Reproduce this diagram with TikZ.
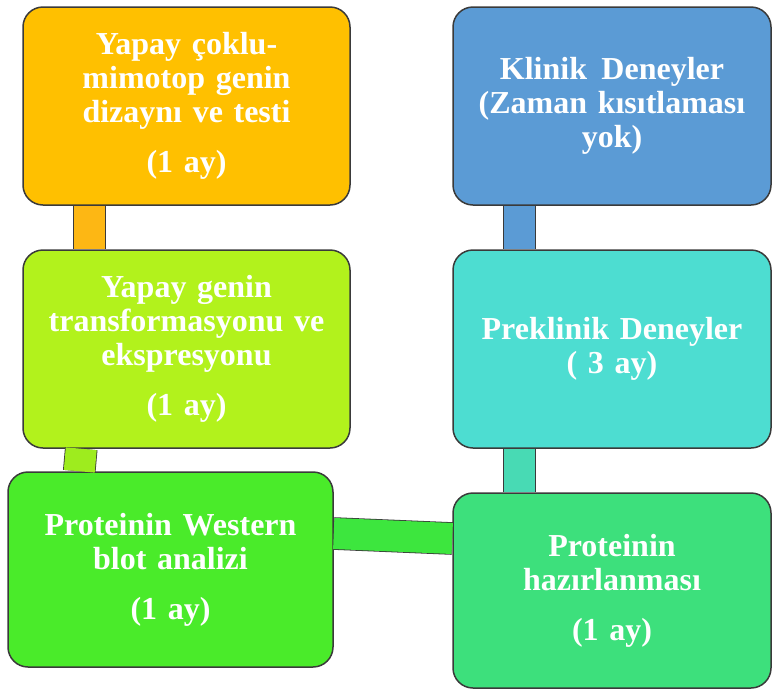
\documentclass[tikz,border=0pt]{standalone}
\usepackage{fontspec}
\setmainfont{Liberation Serif}
\definecolor{edge}{HTML}{3A3A3A}
\definecolor{amber}{HTML}{FFC000}
\definecolor{steel}{HTML}{5B9BD5}
\definecolor{lime}{HTML}{B2F21C}
\definecolor{aqua}{HTML}{4DDDD1}
\definecolor{leaf}{HTML}{4AEB2A}
\definecolor{mint}{HTML}{3DE07C}
\definecolor{amberbar}{HTML}{FDB714}
\definecolor{limebar}{HTML}{9EEC1E}
\definecolor{aquabar}{HTML}{48DAB4}
\definecolor{leafbar}{HTML}{3DE63E}

\begin{document}
\begin{tikzpicture}[x=1pt, y=-1pt, every node/.style={font=\fontsize{32}{34}\selectfont\bfseries},
      box/.style={draw=edge, rounded corners=20pt, text=white, minimum height=198pt, minimum width=318pt, text width=300pt, align=center, inner sep=0pt, line width=1.5pt},
      bar/.style={draw=edge, line width=0.8pt, double distance=31pt}]
    \useasboundingbox (0,0) rectangle (772,689);
    \node[box, fill=amber, minimum width=327pt] (yapay) at (186.5,106) {Yapay çoklu-\\mimotop genin\\dizaynı ve testi\\[16pt](1 ay)};
    \node[box, fill=steel] (klinik) at (612,106) {Klinik\hspace{0.45em}Deneyler\\(Zaman kısıtlaması\\yok)};
    \node[box, fill=lime, minimum width=327pt] (transform) at (186.5,349) {Yapay genin\\transformasyonu ve\\ekspresyonu\\[16pt](1 ay)};
    \node[box, fill=aqua] (preklinik) at (612,349) {Preklinik Deneyler\\( 3 ay)};
    \node[box, fill=leaf, minimum width=325pt, minimum height=195pt] (western) at (170.5,569.5) {Proteinin Western\\blot analizi\\[16pt](1 ay)};
    \node[box, fill=mint, minimum height=195pt] (hazir) at (612,590.5) {Proteinin\\hazırlanması\\[16pt](1 ay)};
    \draw[bar, double=amberbar] ([xshift=67pt]yapay.south west) -- ([xshift=67pt]transform.north west);
    \draw[bar, double=steel] ([xshift=67.5pt]klinik.south west) -- ([xshift=67.5pt]preklinik.north west);
    \draw[bar, double=limebar] ([xshift=59pt]transform.south west) -- ([xshift=72pt]western.north west);
    \draw[bar, double=aquabar] ([xshift=67.5pt]preklinik.south west) -- ([xshift=67.5pt]hazir.north west);
    \draw[bar, double=leafbar] ([yshift=36pt]western.east) -- ([yshift=52pt]hazir.west);
  \end{tikzpicture}
\end{document}
